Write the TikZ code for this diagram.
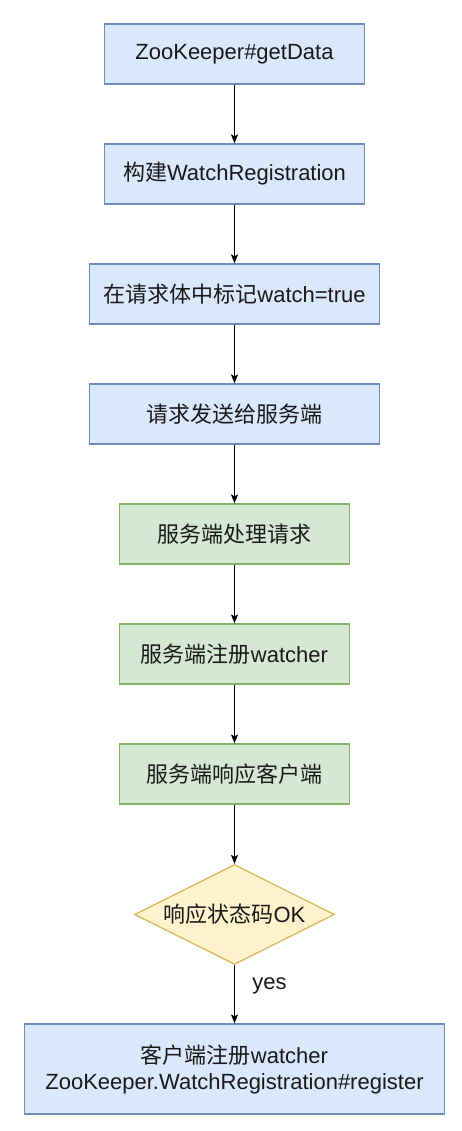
\documentclass[tikz,border=0pt]{standalone}
\usepackage{fontspec}
\setmainfont{Liberation Sans}
\newfontfamily\cjk{Noto Sans CJK SC}
\newcommand{\zh}[1]{{\cjk #1}}
\usetikzlibrary{shapes.geometric,arrows.meta}
\definecolor{bluefill}{HTML}{DAE8FC}
\definecolor{bluedraw}{HTML}{6C8EBF}
\definecolor{greenfill}{HTML}{D5E8D4}
\definecolor{greendraw}{HTML}{82B366}
\definecolor{yellowfill}{HTML}{FFF2CC}
\definecolor{yellowdraw}{HTML}{D6B656}
\begin{document}
\begin{tikzpicture}[x=1pt,y=-1pt,
  every node/.style={font=\fontsize{22}{26}\selectfont, text=black!90},
  bluebox/.style={draw=bluedraw, fill=bluefill, line width=1.2pt, minimum height=60pt, inner sep=0pt, align=center},
  greenbox/.style={draw=greendraw, fill=greenfill, line width=1.2pt, minimum height=60pt, minimum width=230pt, inner sep=0pt, align=center},
  decision/.style={diamond, draw=yellowdraw, fill=yellowfill, line width=1.2pt, minimum width=200pt, minimum height=100pt, inner sep=0pt},
  flow/.style={draw=black, line width=1pt, -{Stealth[length=9pt,width=7pt,inset=2pt]}},
  lbl/.style={inner sep=1pt}
]
\useasboundingbox (0,0) rectangle (461,1131);
\node[bluebox, minimum width=260pt] (n1) at (234.5,54) {ZooKeeper\#getData};
\node[bluebox, minimum width=260pt] (n2) at (234.5,174) {\zh{构建}WatchRegistration};
\node[bluebox, minimum width=290pt] (n3) at (234.5,294) {\zh{在请求体中标记}watch=true};
\node[bluebox, minimum width=290pt] (n4) at (234.5,414) {\zh{请求发送给服务端}};
\node[greenbox] (n5) at (234.5,534) {\zh{服务端处理请求}};
\node[greenbox] (n6) at (234.5,654) {\zh{服务端注册}watcher};
\node[greenbox] (n7) at (234.5,774) {\zh{服务端响应客户端}};
\node[decision] (n8) at (234.5,914.5) {};
\node (n8t) at (n8.center) {\zh{响应状态码}OK};
\node[bluebox, minimum width=420pt, minimum height=90pt] (n9) at (234.5,1069) {\zh{客户端注册}watcher\\ZooKeeper.WatchRegistration\#register};
\draw[flow] (n1) -- (n2);
\draw[flow] (n2) -- (n3);
\draw[flow] (n3) -- (n4);
\draw[flow] (n4) -- (n5);
\draw[flow] (n5) -- (n6);
\draw[flow] (n6) -- (n7);
\draw[flow] (n7) -- (n8.north);
\draw[flow] (n8.south) -- (n9);
\node[lbl] (yes) at (269.5,986) {yes};
\end{tikzpicture}
\end{document}
